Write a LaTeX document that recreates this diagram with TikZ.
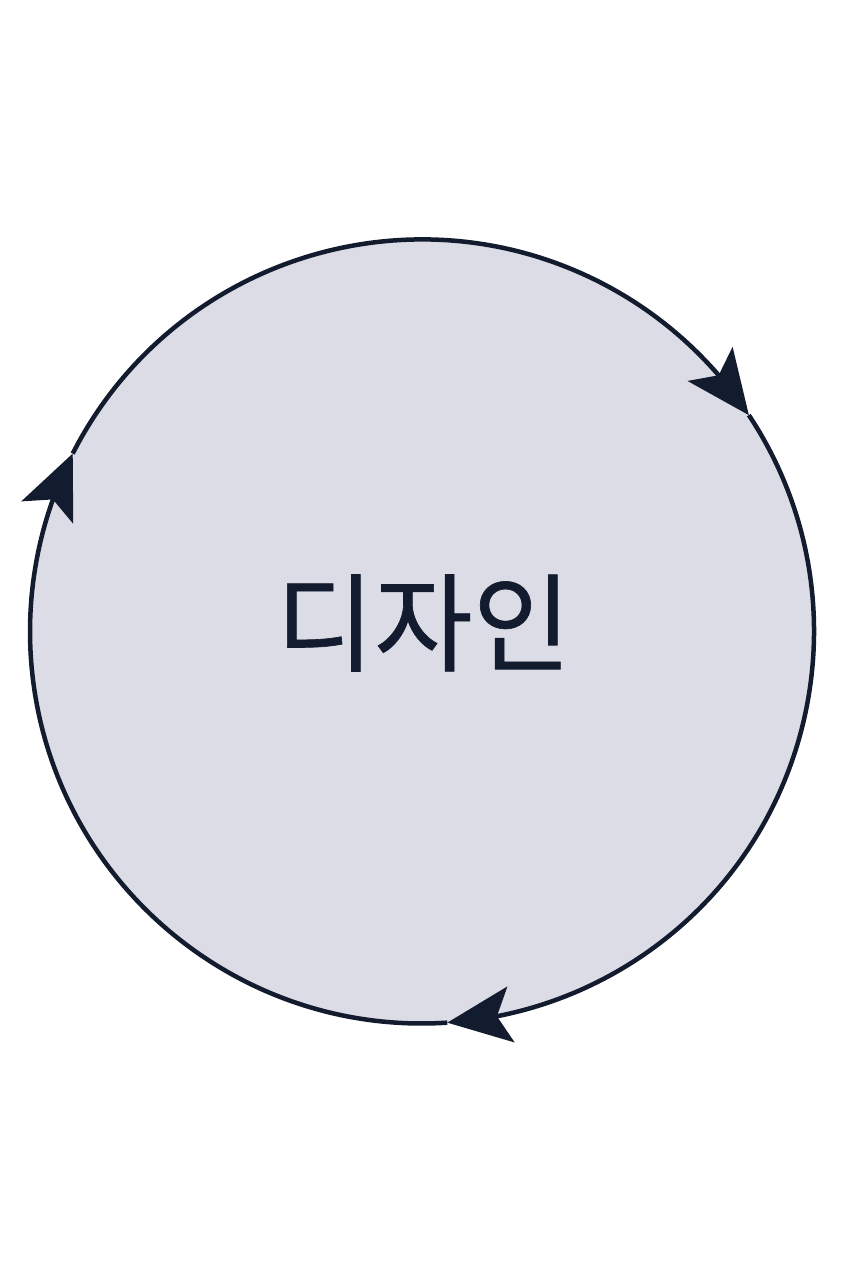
\documentclass[tikz,border=0pt]{standalone}
\usepackage{fontspec}
\newfontfamily\krfont[FakeBold=0.6]{Noto Sans CJK KR}
\usetikzlibrary{arrows.meta,bending,calc}
\definecolor{ink}{HTML}{131C2E}
\definecolor{disc}{HTML}{DCDCE6}
\tikzset{
  cyclearc/.style={draw=ink,line width=4.5pt,-{Stealth[length=64pt,width=56pt,inset=14pt]}},
  label/.style={text=ink,font=\krfont\fontsize{107pt}{107pt}\selectfont,inner sep=0pt}
}
\begin{document}
\begin{tikzpicture}[x=1pt,y=1pt]
\useasboundingbox (0,0) rectangle (848,1264);
\coordinate (c) at (422,632.5);
\fill[disc] (c) circle[radius=392];
\node[label] (t) at (423.5,641) {디자인};
\coordinate (pA) at ($(c)+(153:392)$);
\coordinate (pB) at ($(c)+(33.5:392)$);
\coordinate (pC) at ($(c)+(273.7:392)$);
\draw[cyclearc] (pA) arc[start angle=153,end angle=33.5,radius=392];
\draw[cyclearc] (pB) arc[start angle=33.5,end angle=-86.3,radius=392];
\draw[cyclearc] (pC) arc[start angle=273.7,end angle=153,radius=392];
\end{tikzpicture}
\end{document}
